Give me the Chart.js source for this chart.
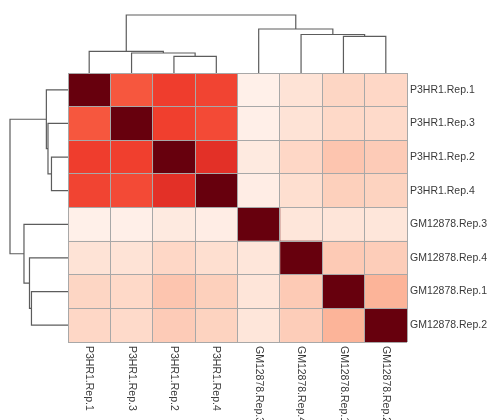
<!DOCTYPE html>
<html>
<head>
<meta charset="utf-8">
<script src="https://cdn.jsdelivr.net/npm/chart.js@4/dist/chart.umd.min.js"></script>
<style>
  html, body { margin: 0; padding: 0; background: #fff; }
  #wrap { width: 488px; height: 420px; }
</style>
</head>
<body>
<div id="wrap"><canvas id="heat"></canvas></div>
<script>
// sample names, in clustered order (same for rows and columns)
const samples = ["P3HR1.Rep.1", "P3HR1.Rep.3", "P3HR1.Rep.2", "P3HR1.Rep.4",
  "GM12878.Rep.3", "GM12878.Rep.4", "GM12878.Rep.1", "GM12878.Rep.2"];

// similarity, as position on the colour scale (0 = lightest, 1 = darkest)
const rowP1 = [1, 0.55, 0.62, 0.60, 0.03, 0.11, 0.16, 0.155];
const rowP3 = [0.55, 1, 0.615, 0.585, 0.035, 0.11, 0.15, 0.145];
const rowP2 = [0.62, 0.615, 1, 0.665, 0.065, 0.155, 0.215, 0.195];
const rowP4 = [0.60, 0.585, 0.665, 1, 0.045, 0.13, 0.18, 0.17];
const rowG3 = [0.03, 0.035, 0.065, 0.045, 1, 0.09, 0.095, 0.09];
const rowG4 = [0.11, 0.11, 0.155, 0.13, 0.09, 1, 0.2, 0.19];
const rowG1 = [0.16, 0.15, 0.215, 0.18, 0.095, 0.2, 1, 0.27];
const rowG2 = [0.155, 0.145, 0.195, 0.17, 0.09, 0.19, 0.27, 1];
const matrix = [rowP1, rowP3, rowP2, rowP4, rowG3, rowG4, rowG1, rowG2];

// hclust style merges: negative = leaf (1-based position), positive = earlier merge
const mergeA = [-3, -2, -1, -7, -6, -5, 3];
const mergeB = [-4, 1, 2, -8, 4, 5, 6];
const mergeHeight = [0.285, 0.345, 0.373, 0.63, 0.664, 0.759, 1.0];

// brewer Reds 9
const reds = ["#fff5f0", "#fee0d2", "#fcbba1", "#fc9272", "#fb6a4a", "#ef3b2c", "#cb181d", "#a50f15", "#67000d"];

function hexRgb(h) {
  return [parseInt(h.slice(1, 3), 16), parseInt(h.slice(3, 5), 16), parseInt(h.slice(5, 7), 16)];
}

function redsColor(v) {
  const t = Math.max(0, Math.min(1, v)) * (reds.length - 1);
  const i = Math.min(Math.floor(t), reds.length - 2);
  const f = t - i;
  const a = hexRgb(reds[i]), b = hexRgb(reds[i + 1]);
  const c = a.map((x, k) => Math.round(x + (b[k] - x) * f));
  return `rgb(${c[0]},${c[1]},${c[2]})`;
}

// one dataset per column, stacked across the x axis
const datasets = samples.map((name, j) => ({
  label: name,
  data: samples.map(() => 1),
  backgroundColor: matrix.map(row => redsColor(row[j])),
  borderWidth: 0,
  categoryPercentage: 1,
  barPercentage: 1
}));

const treePx = 58;

// draw a dendrogram, side = "top" or "left"
function drawTree(chart, side) {
  const ctx = chart.ctx;
  const area = chart.chartArea;
  const xs = chart.scales.x, ys = chart.scales.y;
  const leafPos = i => side === "top" ? xs.getPixelForValue(i + 0.5) : ys.getPixelForValue(i);
  const depth = h => side === "top" ? area.top - h * treePx : area.left - h * treePx;
  const nodes = [];
  const info = k => k < 0 ? { pos: leafPos(-k - 1), h: 0 } : nodes[k - 1];

  ctx.save();
  ctx.strokeStyle = "#5c5c5c";
  ctx.lineWidth = 1.2;
  ctx.beginPath();
  for (let m = 0; m < mergeA.length; m++) {
    const a = info(mergeA[m]), b = info(mergeB[m]);
    const h = mergeHeight[m];
    if (side === "top") {
      ctx.moveTo(a.pos, depth(a.h));
      ctx.lineTo(a.pos, depth(h));
      ctx.lineTo(b.pos, depth(h));
      ctx.lineTo(b.pos, depth(b.h));
    } else {
      ctx.moveTo(depth(a.h), a.pos);
      ctx.lineTo(depth(h), a.pos);
      ctx.lineTo(depth(h), b.pos);
      ctx.lineTo(depth(b.h), b.pos);
    }
    nodes.push({ pos: (a.pos + b.pos) / 2, h: h });
  }
  ctx.stroke();
  ctx.restore();
}

const treePlugin = {
  id: "trees",
  afterDraw(chart) {
    drawTree(chart, "top");
    drawTree(chart, "left");

    // column labels, turned clockwise
    const ctx = chart.ctx;
    const xs = chart.scales.x;
    ctx.save();
    ctx.fillStyle = "#3a3a3a";
    ctx.font = "10.5px 'Liberation Sans', Arial, sans-serif";
    ctx.textAlign = "left";
    ctx.textBaseline = "middle";
    samples.forEach((name, j) => {
      ctx.save();
      ctx.translate(xs.getPixelForValue(j + 0.5), chart.chartArea.bottom + 4);
      ctx.rotate(Math.PI / 2);
      ctx.fillText(name, 0, 0);
      ctx.restore();
    });
    ctx.restore();
  }
};

new Chart(document.getElementById("heat"), {
  type: "bar",
  data: { labels: samples, datasets: datasets },
  options: {
    indexAxis: "y",
    responsive: true,
    maintainAspectRatio: false,
    animation: false,
    layout: { padding: { left: 68, top: 73, bottom: 78, right: 0 } },
    plugins: { legend: { display: false }, tooltip: { enabled: false } },
    scales: {
      x: {
        type: "linear",
        stacked: true,
        min: 0,
        max: 8,
        ticks: { display: false, stepSize: 1 },
        grid: { color: "#a8a8a8", lineWidth: 1, drawTicks: false, z: 1 },
        border: { display: false }
      },
      y: {
        type: "category",
        stacked: true,
        position: "right",
        ticks: {
          color: "#3a3a3a",
          padding: 3,
          font: { family: "'Liberation Sans', Arial, sans-serif", size: 10.5 }
        },
        grid: { color: "#a8a8a8", lineWidth: 1, drawTicks: false, offset: true, z: 1 },
        border: { display: false },
        afterFit(scale) { scale.width = 81; }
      }
    }
  },
  plugins: [treePlugin]
});
</script>
</body>
</html>
